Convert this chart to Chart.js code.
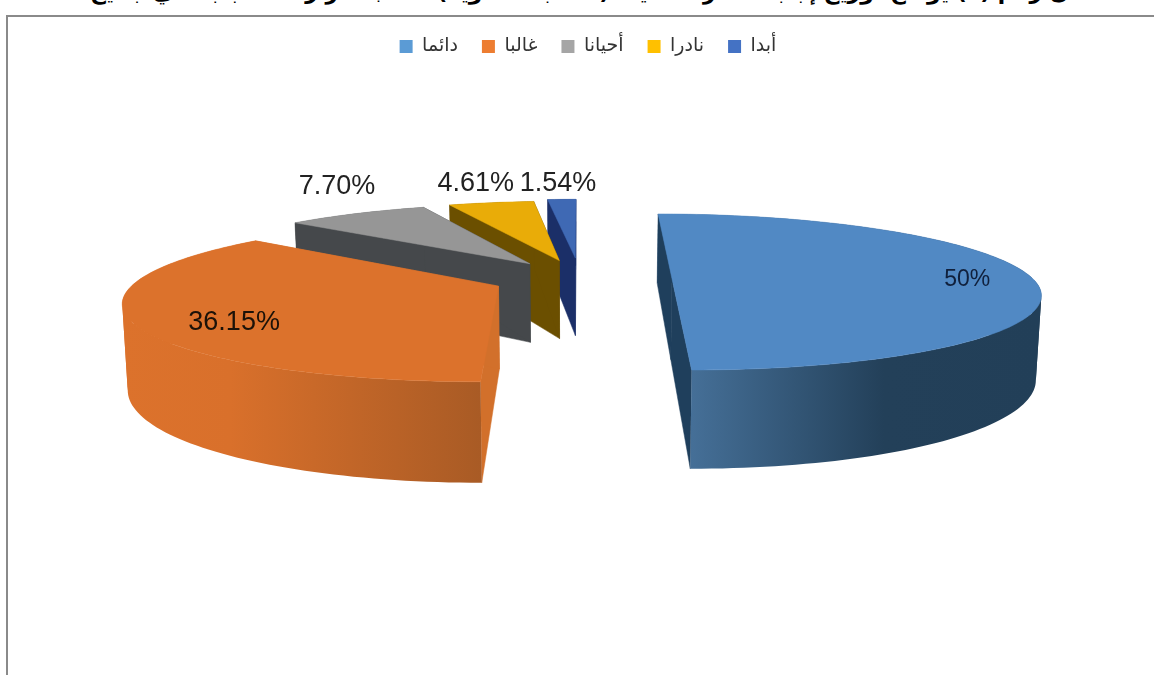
<!DOCTYPE html>
<html lang="ar">
<head>
<meta charset="utf-8">
<style>
  html, body { margin: 0; padding: 0; background: #fff; overflow: hidden; width: 1154px; height: 675px; }
  #frame { position: absolute; left: 6px; top: 15px; right: -4px; bottom: -4px; border: 2px solid #8a8a8a; }
  /* cropped caption line above the chart: only its descenders show, wording is a best guess */
  #caption { position: absolute; left: 110px; right: 50px; top: -21px; direction: rtl; text-align: justify; text-align-last: justify;
    font: bold 22px "DejaVu Sans", sans-serif; color: #000; white-space: nowrap; }
  canvas { position: absolute; left: 0; top: 0; }
</style>
</head>
<body>
<div id="frame"></div>
<div id="caption">شكل رقم (٣) يوضح توزيع إجابات أفراد العينة (النسبة المئوية) حسب تكرار الاستجابة في جميع الحالات</div>
<canvas id="chart" width="1154" height="675"></canvas>
<script src="https://cdn.jsdelivr.net/npm/chart.js@4"></script>
<script>
const categories = ['دائما', 'غالبا', 'أحيانا', 'نادرا', 'أبدا'];
const percentValues = [50, 36.15, 7.70, 4.61, 1.54];
const percentLabels = ['50%', '36.15%', '7.70%', '4.61%', '1.54%'];

// slice styling
const legendColors = ['#5b9bd5', '#ed7d31', '#a5a5a5', '#ffc000', '#4472c4'];
const topColors = ['#5189c4', '#dc722c', '#969696', '#e9ac08', '#3f69b4'];
const sideColors = ['#1f3f5c', '#d2702b', '#45484b', '#6b4f00', '#1b2f68'];
const wallStops = [
  [[0, '#456f97'], [0.55, '#234059'], [1, '#223f58']],
  [[0, '#dc722c'], [0.3, '#d9702b'], [1, '#a95b25']],
  [[0, '#45484b'], [1, '#45484b']],
  [[0, '#6b4f00'], [1, '#6b4f00']],
  [[0, '#1b2f68'], [1, '#1b2f68']]
];
const explode = [0.255, 0.245, 0.245, 0.25, 0.28];
const labelRadii = [0.817, 0.776, 1.52, 1.40, 1.335];
const labelTurn = [1, -8.5, 8, 1, 0];
const labelFonts = [23, 27, 27, 27, 27];
const labelColors = ['#10203c', '#1c1208', '#222222', '#222222', '#222222'];

// camera for the tilted pie, in normalised radius units
const camera = { x0: 580, horizon: -150, spreadX: 360.4, spreadY: 428.2, tilt: 0.1765, depth: 1.19, converge: 0.012 };

function project(n, m, bottom) {
  const w = 1 - camera.tilt * m;
  let sx = camera.x0 + camera.spreadX * n / w;
  let sy = camera.spreadY / w;
  if (bottom) {
    sx -= (sx - camera.x0) * camera.converge;
    sy *= camera.depth;
  }
  return [sx, sy + camera.horizon];
}

function tracePath(ctx, points) {
  ctx.beginPath();
  points.forEach((p, i) => (i ? ctx.lineTo(p[0], p[1]) : ctx.moveTo(p[0], p[1])));
  ctx.closePath();
}

const pie3d = {
  id: 'pie3d',
  beforeDatasetDraw(chart) {
    const ctx = chart.ctx;
    const arcs = chart.getDatasetMeta(0).data;
    ctx.save();
    // far slices first so the nearer ones sit on top
    for (let i = arcs.length - 1; i >= 0; i--) {
      const arc = arcs[i];
      const R = arc.outerRadius;
      const mid = (arc.startAngle + arc.endAngle) / 2;
      const ox = Math.cos(mid) * arc.options.offset / R;
      const oy = Math.sin(mid) * arc.options.offset / R;

      const rim = [];
      const steps = Math.max(4, Math.ceil((arc.endAngle - arc.startAngle) * 40));
      for (let s = 0; s <= steps; s++) {
        const a = arc.startAngle + (arc.endAngle - arc.startAngle) * s / steps;
        rim.push([ox + Math.cos(a), oy + Math.sin(a), Math.sin(a)]);
      }
      const topRim = rim.map(p => project(p[0], p[1], false));
      const bottomRim = rim.map(p => project(p[0], p[1], true));
      const apexTop = project(ox, oy, false);
      const apexBottom = project(ox, oy, true);

      // outer wall, shaded left to right over its front part
      const front = topRim.filter((p, k) => rim[k][2] >= 0);
      const xs = (front.length > 1 ? front : topRim).map(p => p[0]);
      const grad = ctx.createLinearGradient(Math.min(...xs), 0, Math.max(...xs), 0);
      wallStops[i].forEach(st => grad.addColorStop(st[0], st[1]));

      // back part goes quad by quad since its edges cross, it ends up mostly hidden
      ctx.fillStyle = grad;
      for (let s = 0; s < steps; s++) {
        if (rim[s][2] + rim[s + 1][2] >= 0) continue;
        tracePath(ctx, [topRim[s], topRim[s + 1], bottomRim[s + 1], bottomRim[s]]);
        ctx.fill();
      }

      // cut faces
      ctx.fillStyle = sideColors[i];
      ctx.strokeStyle = sideColors[i];
      ctx.lineWidth = 0.5;
      [[topRim[0], bottomRim[0]], [topRim[steps], bottomRim[steps]]].forEach(edge => {
        tracePath(ctx, [apexTop, edge[0], edge[1], apexBottom]);
        ctx.fill();
        ctx.stroke();
      });

      // front part: one polygon per run going the same way in x, a folded polygon leaves holes
      const frontIdx = rim.map((p, k) => k).filter(k => rim[k][2] >= 0);
      const runs = [];
      let run = [];
      let lastDir = 0;
      frontIdx.forEach((k, j) => {
        if (j > 0) {
          const dir = Math.sign(topRim[k][0] - topRim[frontIdx[j - 1]][0]);
          if (lastDir && dir !== lastDir) {
            runs.push(run);
            run = [frontIdx[j - 1]];
          }
          lastDir = dir;
        }
        run.push(k);
      });
      if (run.length > 1) runs.push(run);
      ctx.fillStyle = grad;
      runs.forEach(r => {
        tracePath(ctx, r.map(k => topRim[k]).concat(r.map(k => bottomRim[k]).reverse()));
        ctx.fill();
      });

      // top face
      ctx.fillStyle = topColors[i];
      ctx.strokeStyle = topColors[i];
      tracePath(ctx, [apexTop].concat(topRim));
      ctx.fill();
      ctx.stroke();
    }

    // percentage labels
    ctx.textAlign = 'center';
    ctx.textBaseline = 'middle';
    arcs.forEach((arc, i) => {
      const R = arc.outerRadius;
      const mid = (arc.startAngle + arc.endAngle) / 2;
      const ox = Math.cos(mid) * arc.options.offset / R;
      const oy = Math.sin(mid) * arc.options.offset / R;
      const a = mid + labelTurn[i] * Math.PI / 180;
      const p = project(ox + labelRadii[i] * Math.cos(a), oy + labelRadii[i] * Math.sin(a), false);
      ctx.font = labelFonts[i] + 'px "Liberation Sans", Arial, sans-serif';
      ctx.fillStyle = labelColors[i];
      ctx.fillText(percentLabels[i], p[0], p[1]);
    });
    ctx.restore();
    return false;
  }
};

// explode ratio turned into px for the radius Chart.js will work out
function sliceOffset(c) {
  const area = c.chart.chartArea;
  if (!area) return 0; // legend asks before layout has run
  return explode[c.dataIndex] * Math.min(area.width, area.height) / (2 + Math.max(...explode));
}

new Chart(document.getElementById('chart'), {
  type: 'pie',
  data: {
    labels: categories,
    datasets: [{
      data: percentValues,
      backgroundColor: legendColors,
      borderWidth: 0,
      offset: sliceOffset
    }]
  },
  options: {
    responsive: false,
    animation: false,
    devicePixelRatio: 1,
    layout: { padding: { top: 13, left: 22, bottom: 10 } },
    plugins: {
      tooltip: { enabled: false },
      legend: {
        position: 'top',
        labels: {
          boxWidth: 13,
          boxHeight: 13,
          padding: 24,
          color: '#333333',
          font: { family: '"DejaVu Sans", sans-serif', size: 19 }
        }
      }
    }
  },
  plugins: [pie3d]
});
</script>
</body>
</html>
